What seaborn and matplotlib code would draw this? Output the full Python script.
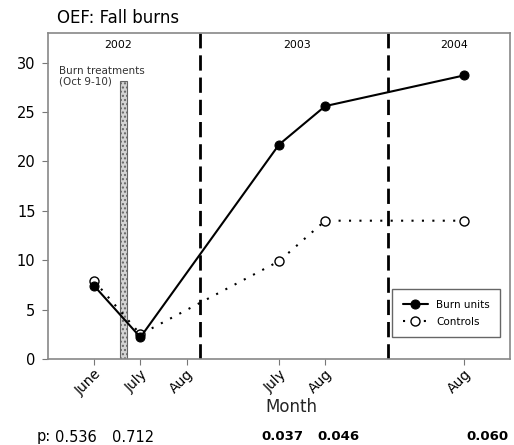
import pandas as pd
import matplotlib.pyplot as plt
import seaborn as sns

sns.set_style('ticks')
plt.rcParams['font.family'] = ['DejaVu Sans']
plt.rcParams['text.color'] = 'black'

# ---- data ----
month_pos = [1, 2, 3, 5, 6, 9]
month_labels = ['June', 'July', 'Aug', 'July', 'Aug', 'Aug']
burn_pos = [1, 2, 5, 6, 9]
burn_units = [7.4, 2.2, 21.7, 25.6, 28.7]
controls = [7.9, 2.5, 9.9, 14.0, 14.0]
year_names = ['2002', '2003', '2004']
year_pos = [1.52, 5.39, 8.8]
year_breaks = [3.3, 7.37]
burn_time = 1.63
burn_height = 28.1
p_labels = ['0.536', '0.712', '0.037', '0.046', '0.060']
p_bold = [False, False, True, True, True]
p_xpix = [55, 112, 261, 317, 466]

df = pd.DataFrame({'pos': burn_pos, 'Burn units': burn_units, 'Controls': controls})

fig = plt.figure(figsize=(5.14, 4.45), dpi=100)
ax = fig.add_axes([48 / 514, 1 - 359 / 445, (510 - 48) / 514, (359 - 33) / 445])

# burn treatment bar
ax.bar([burn_time], [burn_height], width=0.14, color='#d4d4d4', edgecolor='#666666',
       hatch='....', linewidth=0.8, zorder=2)

# year separators
for xb in year_breaks:
    ax.axvline(xb, color='black', lw=2, linestyle=(0, (5.5, 2.5)), zorder=1)

sns.lineplot(data=df, x='pos', y='Controls', ax=ax, color='black', lw=1.5,
             linestyle=(0, (1, 4)), marker='o', markersize=6.5, markerfacecolor='white',
             markeredgecolor='black', markeredgewidth=1.0, label='Controls', zorder=3)
sns.lineplot(data=df, x='pos', y='Burn units', ax=ax, color='black', lw=1.5,
             marker='o', markersize=6.5, markerfacecolor='black', markeredgecolor='black',
             label='Burn units', zorder=4)

ax.set_xlim(0, 10)
ax.set_ylim(0, 33)
ax.set_yticks(range(0, 31, 5))
ax.set_xticks(month_pos)
ax.set_xticklabels(month_labels, rotation=45, ha='right', rotation_mode='anchor', fontsize=10)
ax.tick_params(axis='y', labelsize=10.5, colors='#777777', labelcolor='black', length=4, pad=5)
ax.tick_params(axis='x', colors='#777777', labelcolor='black', length=4, pad=2)
ax.set_xlabel('Month', fontsize=12, va='center')
ax.xaxis.set_label_coords((291 - 48) / 462, -0.147)
ax.set_ylabel('')
for s in ax.spines.values():
    s.set_color('#888888')
    s.set_linewidth(1.2)

for name, xp in zip(year_names, year_pos):
    ax.text(xp, 31.8, name, ha='center', va='center', fontsize=7.8)
ax.text(0.23, 29.7, 'Burn treatments\n(Oct 9-10)', ha='left', va='top', fontsize=7.5,
        color='#333333', linespacing=1.1)

handles, labels = ax.get_legend_handles_labels()
order = [labels.index('Burn units'), labels.index('Controls')]
leg = ax.legend([handles[i] for i in order], [labels[i] for i in order],
                loc='lower right', bbox_to_anchor=(0.99, 0.05), fontsize=7.5,
                fancybox=False, framealpha=1, edgecolor='#666666', handlelength=2.4,
                borderpad=1.0, labelspacing=0.7, handletextpad=0.8)
leg.get_frame().set_linewidth(1.0)

fig.text(57 / 514, 1 - 18 / 445, 'OEF: Fall burns', fontsize=12, ha='left', va='center')

fig.text(37 / 514, 1 - 437 / 445, 'p:', fontsize=10.5, ha='left', va='center')
for lab, bold, xp in zip(p_labels, p_bold, p_xpix):
    fig.text(xp / 514, 1 - 437 / 445, lab, fontsize=9.5 if bold else 10.5,
             ha='left', va='center', fontweight='bold' if bold else 'normal')

fig.savefig('out.png', dpi=100)
